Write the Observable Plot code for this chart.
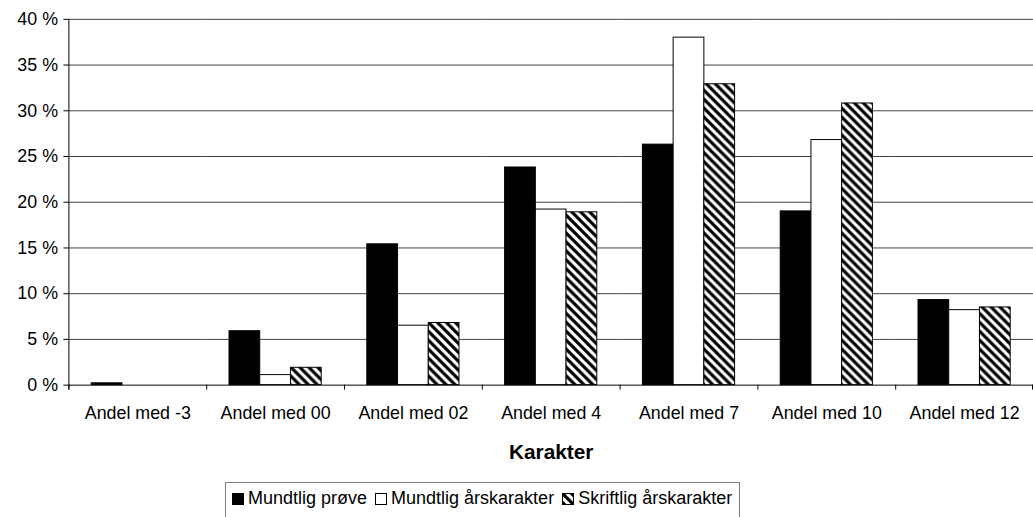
<!DOCTYPE html>
<html>
<head>
<meta charset="utf-8">
<script src="https://cdn.jsdelivr.net/npm/d3@7"></script>
<script src="https://cdn.jsdelivr.net/npm/@observablehq/plot@0.6"></script>
<style>
  html, body { margin: 0; padding: 0; background: #fff; overflow: hidden; }
  body { width: 1033px; height: 517px; position: relative; font-family: "Liberation Sans", Arial, sans-serif; }
  #chart { position: absolute; left: 0; top: 0; }
  #legend { position: absolute; left: 225px; top: 482px; width: 515px; height: 60px; border: 1px solid #808080; box-sizing: border-box;
            font-size: 18px; color: #000; display: flex; align-items: flex-start; padding-top: 5px; padding-left: 6px; white-space: nowrap; }
  #legend .item { display: flex; align-items: center; margin-right: 8px; }
  #legend svg { margin-right: 4px; }
</style>
</head>
<body>
<svg width="0" height="0" style="position:absolute">
  <defs>
    <pattern id="hatch" patternUnits="userSpaceOnUse" width="9" height="9">
      <rect width="9" height="9" fill="#fff"></rect>
      <path d="M-2,-2 L11,11 M-2,7 L2,11 M7,-2 L11,2" stroke="#000" stroke-width="3.2"></path>
    </pattern>
  </defs>
</svg>
<div id="chart"></div>
<div id="legend"></div>
<script>
const categories = ["Andel med -3", "Andel med 00", "Andel med 02", "Andel med 4", "Andel med 7", "Andel med 10", "Andel med 12"];
const series = ["Mundtlig prøve", "Mundtlig årskarakter", "Skriftlig årskarakter"];
const mundtligProeve = [0.2, 5.9, 15.4, 23.8, 26.3, 19.0, 9.3];
const mundtligAarskarakter = [0, 1.1, 6.5, 19.2, 38.0, 26.8, 8.2];
const skriftligAarskarakter = [0, 1.9, 6.8, 18.9, 32.9, 30.8, 8.5];
const yTicks = [0, 5, 10, 15, 20, 25, 30, 35, 40];
const seriesFills = ["#000", "#fff", "url(#hatch)"];
const xTitle = "Karakter";

const valuesBySeries = [mundtligProeve, mundtligAarskarakter, skriftligAarskarakter];
const rows = [];
categories.forEach((c, i) => series.forEach((s, j) => rows.push({cat: c, series: s, value: valuesBySeries[j][i]})));

const chart = Plot.plot({
  width: 1042,
  height: 470,
  marginLeft: 69,
  marginRight: 0,
  marginTop: 19,
  marginBottom: 82,
  style: {fontFamily: "'Liberation Sans', Arial, sans-serif", fontSize: "18px", color: "#000", background: "#fff", overflow: "visible"},
  fx: {domain: categories, padding: 0},
  x: {domain: series, paddingInner: 0, paddingOuter: 0.72, axis: null},
  y: {domain: [0, 40], ticks: yTicks},
  color: {domain: series, range: seriesFills, type: "ordinal"},
  marks: [
    Plot.ruleY(yTicks.filter(d => d > 0), {stroke: "#000", strokeWidth: 1, strokeOpacity: 0.75}),
    Plot.barY(rows, {fx: "cat", x: "series", y: "value", fill: "series", stroke: "#000", strokeWidth: 1, inset: 0}),
    Plot.ruleY([0], {stroke: "#000", strokeWidth: 1}),
    Plot.axisY({ticks: yTicks, tickSize: 5, tickPadding: 6, tickFormat: d => d + " %", label: null, fontSize: 18}),
    Plot.axisFx({anchor: "bottom", tickSize: 0, tickPadding: 21, fontSize: 18, label: null})
  ]
});
document.getElementById("chart").appendChild(chart);

// Axis line, boundary ticks and axis title from the plot's own scales
const svg = d3.select(chart);
const fx = chart.scale("fx");
const y = chart.scale("y");
const y0 = y.apply(0), y40 = y.apply(40);
const left = fx.apply(categories[0]);
const xe = fx.apply(categories[categories.length - 1]) + fx.bandwidth;
const g = svg.append("g").attr("stroke", "#000").attr("stroke-width", 1);
g.append("line").attr("x1", left + 0.5).attr("x2", left + 0.5).attr("y1", y40).attr("y2", y0 + 5);
categories.forEach(c => {
  const xb = fx.apply(c);
  g.append("line").attr("x1", xb + 0.5).attr("x2", xb + 0.5).attr("y1", y0).attr("y2", y0 + 5);
});
g.append("line").attr("x1", xe - 0.5).attr("x2", xe - 0.5).attr("y1", y0).attr("y2", y0 + 5);

svg.append("text")
  .attr("x", (left + 1033) / 2 + 5)
  .attr("y", y0 + 75)
  .attr("text-anchor", "middle")
  .attr("font-weight", "bold")
  .attr("font-size", 21)
  .attr("fill", "#000")
  .text(xTitle);

// Legend
const legend = d3.select("#legend");
series.forEach((s, j) => {
  const item = legend.append("div").attr("class", "item");
  const sw = item.append("svg").attr("width", 12).attr("height", 12);
  sw.append("rect").attr("x", 0.5).attr("y", 0.5).attr("width", 11).attr("height", 11)
    .attr("fill", seriesFills[j]).attr("stroke", "#000").attr("stroke-width", 1);
  item.append("span").text(s);
});
</script>
</body>
</html>
